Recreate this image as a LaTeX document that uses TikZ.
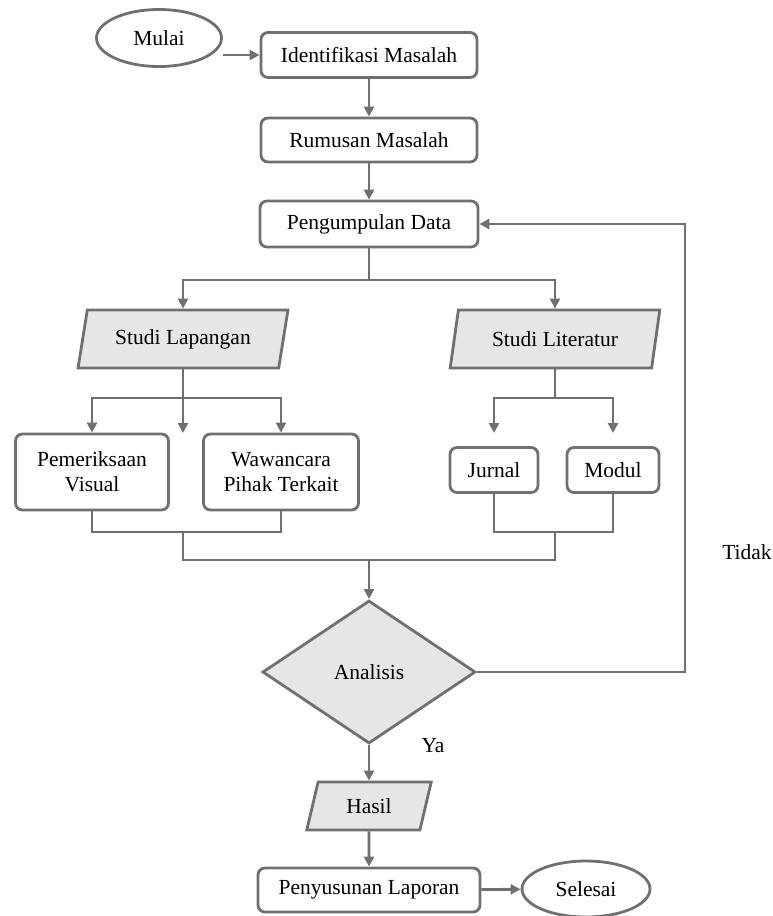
\documentclass[tikz,border=0pt]{standalone}
\usepackage{fontspec}
\setmainfont{Liberation Serif}
\newfontfamily\huruf{Liberation Serif}
\usetikzlibrary{shapes.geometric,arrows.meta}
\definecolor{garis}{RGB}{112,112,112}
\definecolor{isi}{RGB}{230,230,230}
\begin{document}
\begin{tikzpicture}[x=1pt, y=-1pt, line width=2.8pt,
    every node/.style = {draw=garis, align=center, inner sep=2pt,
                  font=\huruf\fontsize{21.5}{25}\selectfont},
    proses/.style = {shape=rectangle, rounded corners=7pt},
    terminal/.style = {shape=ellipse},
    data/.style = {trapezium, trapezium left angle=74, trapezium right angle=106,
                  trapezium stretches=true, fill=isi},
    putusan/.style = {diamond, fill=isi, inner sep=0pt},
    label/.style = {draw=none},
    garis/.style = {draw=garis},
    panah/.style = {garis, -{Triangle[length=10pt,width=10pt]}}]
  \useasboundingbox (0,0) rectangle (772,916);
  \node[terminal, minimum width=125, minimum height=57] (mulai) at (159,38) {Mulai};
  \node[proses, minimum width=216, minimum height=45] (identifikasi) at (369,55) {Identifikasi Masalah};
  \node[proses, minimum width=216, minimum height=44] (rumusan) at (369,140) {Rumusan Masalah};
  \node[proses, minimum width=218, minimum height=46] (pengumpulan) at (369,224) {Pengumpulan Data};
  \node[data, minimum width=210, minimum height=58] (lapangan) at (183,339) {Studi Lapangan};
  \node[data, minimum width=210, minimum height=58] (literatur) at (555,339) {Studi Literatur};
  \node[proses, minimum width=153, minimum height=76] (visual) at (92,472) {Pemeriksaan\\Visual};
  \node[proses, minimum width=155, minimum height=76] (wawancara) at (281,472) {Wawancara\\Pihak Terkait};
  \node[proses, minimum width=88, minimum height=45] (jurnal) at (494,470) {Jurnal};
  \node[proses, minimum width=92, minimum height=45] (modul) at (613,470) {Modul};
  \node[putusan, minimum width=213, minimum height=143] (analisis) at (369,672) {Analisis};
  \node[data, minimum width=125, minimum height=48] (hasil) at (369,806) {Hasil};
  \node[proses, minimum width=222, minimum height=44] (laporan) at (369,890) {Penyusunan Laporan};
  \node[terminal, minimum width=128, minimum height=56] (selesai) at (586,889) {Selesai};
  \node[label] (ya) at (433,746) {Ya};
  \node[label] (tidak) at (747,552) {Tidak};

  \coordinate (k1) at (369,280);
  \coordinate (l1) at (183,398);
  \coordinate (l2) at (183,433);
  \coordinate (t1) at (555,398);
  \coordinate (j0) at (494,433);
  \coordinate (m0) at (613,433);
  \coordinate (l3) at (183,532);
  \coordinate (t3) at (555,532);
  \coordinate (g0) at (369,560);
  \coordinate (fb) at (685,672);

  \draw[panah] (mulai.east |- identifikasi.west) -- (identifikasi.west);
  \draw[panah] (identifikasi) -- (rumusan);
  \draw[panah] (rumusan) -- (pengumpulan);
  \draw[garis] (pengumpulan) -- (k1);
  \draw[panah] (k1) -| (lapangan);
  \draw[panah] (k1) -| (literatur);
  \draw[garis] (lapangan) -- (l1);
  \draw[panah] (l1) -| (visual);
  \draw[panah] (l1) -| (wawancara);
  \draw[panah] (l1) -- (l2);
  \draw[garis] (literatur) -- (t1);
  \draw[panah] (t1) -| (j0);
  \draw[panah] (t1) -| (m0);
  \draw[garis] (visual) |- (l3) -| (wawancara);
  \draw[garis] (jurnal) |- (t3) -| (modul);
  \draw[garis] (l3) |- (g0) -| (t3);
  \draw[panah] (g0) -- (analisis);
  \draw[panah] (analisis) -- (fb) |- (pengumpulan);
  \draw[panah] (analisis) -- (hasil);
  \draw[panah] (hasil) -- (laporan);
  \draw[panah] (laporan) -- (selesai);
\end{tikzpicture}
\end{document}
